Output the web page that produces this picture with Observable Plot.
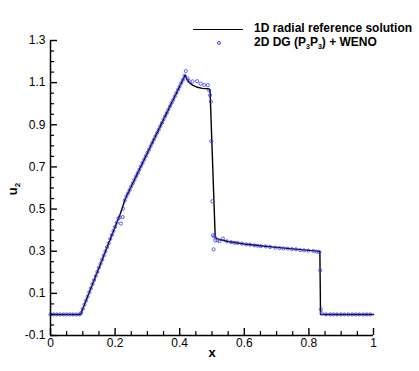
<!DOCTYPE html>
<html>
<head>
<meta charset="utf-8">
<script src="https://cdn.jsdelivr.net/npm/d3@7"></script>
<script src="https://cdn.jsdelivr.net/npm/@observablehq/plot@0.6"></script>
<style>
  html, body { margin: 0; padding: 0; background: #fff; }
  #wrap { position: relative; width: 419px; height: 371px; font-family: "Liberation Sans", Arial, sans-serif; }
  #wrap svg { display: block; }
  .lg { position: absolute; font-weight: bold; font-size: 12px; line-height: 12px; white-space: nowrap; color: #000; }
  .lg sub { font-size: 7px; vertical-align: -3px; line-height: 0; }
  #lgline { position: absolute; left: 193px; top: 28.5px; width: 50px; height: 0; border-top: 1.5px solid #000; }
  #lgdot { position: absolute; left: 216.5px; top: 40.5px; width: 2.4px; height: 2.4px; border: 0.8px solid #3a3aff; border-radius: 50%; }
  #ylab { position: absolute; left: 12px; top: 189px; transform: translate(-50%, -50%) rotate(-90deg); font-weight: bold; font-size: 13px; line-height: 13px; white-space: nowrap; }
  #ylab sub { font-size: 8px; vertical-align: -3px; line-height: 0; }
</style>
</head>
<body>
<div id="wrap">
  <div id="lgline"></div>
  <div class="lg" style="left:254px; top:22.3px;">1D radial reference solution</div>
  <div id="lgdot"></div>
  <div class="lg" style="left:254px; top:36px;">2D DG (P<sub>3</sub>P<sub>3</sub>) + WENO</div>
  <div id="ylab">u<sub>2</sub></div>
</div>
<script>
// Reference solution (black line)
const refX = [0, 0.093, 0.16, 0.216, 0.232, 0.319, 0.417, 0.423, 0.43, 0.44, 0.455, 0.47, 0.49, 0.494, 0.51, 0.52, 0.55, 0.6, 0.65, 0.7, 0.75, 0.8, 0.834, 0.836, 1];
const refY = [0, 0, 0.26, 0.478, 0.55, 0.827, 1.136, 1.115, 1.1, 1.088, 1.078, 1.073, 1.071, 1.06, 0.365, 0.357, 0.346, 0.334, 0.326, 0.318, 0.311, 0.304, 0.299, 0, 0];

// 2D DG (P3P3) + WENO (blue circles)
const dgX = [
  0, 0.01, 0.02, 0.03, 0.04, 0.05, 0.06, 0.07, 0.08, 0.09,
  0.095, 0.1, 0.105, 0.11, 0.115, 0.12, 0.125, 0.13, 0.135, 0.14,
  0.145, 0.15, 0.155, 0.16, 0.165, 0.17, 0.175, 0.18, 0.185, 0.19,
  0.195, 0.2, 0.205, 0.21, 0.214, 0.218, 0.2235, 0.2246, 0.23, 0.235,
  0.24, 0.245, 0.25, 0.255, 0.26, 0.265, 0.27, 0.275, 0.28, 0.285,
  0.29, 0.295, 0.3, 0.305, 0.31, 0.315, 0.32, 0.325, 0.33, 0.335,
  0.34, 0.345, 0.35, 0.355, 0.36, 0.365, 0.37, 0.375, 0.38, 0.385,
  0.39, 0.395, 0.4, 0.405, 0.41, 0.415, 0.419, 0.424, 0.428, 0.44,
  0.454, 0.465, 0.476, 0.487, 0.491, 0.494, 0.4965, 0.4977, 0.5008, 0.503,
  0.507, 0.505, 0.51, 0.517, 0.523, 0.534, 0.546, 0.5595, 0.57, 0.579,
  0.593, 0.606, 0.618, 0.631, 0.641, 0.651, 0.666, 0.68, 0.696, 0.709,
  0.721, 0.734, 0.747, 0.76, 0.773, 0.785, 0.798, 0.814, 0.824, 0.8325,
  0.835, 0.837, 0.84, 0.853, 0.866, 0.876, 0.887, 0.899, 0.91, 0.922,
  0.934, 0.945, 0.956, 0.968, 0.979, 0.99
];
const dgY = [
  0, 0, 0, 0, 0, 0, 0, 0, 0, 0,
  0.008, 0.027, 0.047, 0.066, 0.085, 0.105, 0.124, 0.144, 0.163, 0.183,
  0.202, 0.222, 0.241, 0.26, 0.28, 0.299, 0.319, 0.338, 0.358, 0.377,
  0.396, 0.416, 0.435, 0.455, 0.462, 0.431, 0.462, 0.502, 0.541, 0.56,
  0.575, 0.591, 0.607, 0.623, 0.639, 0.655, 0.671, 0.687, 0.703, 0.719,
  0.735, 0.751, 0.767, 0.782, 0.798, 0.814, 0.83, 0.846, 0.862, 0.877,
  0.893, 0.909, 0.925, 0.941, 0.956, 0.972, 0.988, 1.004, 1.019, 1.035,
  1.051, 1.067, 1.082, 1.098, 1.114, 1.132, 1.155, 1.12, 1.108, 1.106,
  1.107, 1.095, 1.089, 1.088, 1.064, 1.04, 1.01, 0.822, 0.537, 0.375,
  0.37, 0.309, 0.351, 0.352, 0.348, 0.36, 0.347, 0.343, 0.34, 0.339,
  0.336, 0.332, 0.331, 0.328, 0.326, 0.324, 0.323, 0.32, 0.317, 0.315,
  0.313, 0.312, 0.31, 0.309, 0.305, 0.304, 0.303, 0.301, 0.298, 0.296,
  0.209, 0.024, 0.005, 0, 0, 0, 0, 0, 0, 0,
  0, 0, 0, 0, 0, 0
];

const xMajor = [0, 0.2, 0.4, 0.6, 0.8, 1];
const xMinor = [0.05, 0.1, 0.15, 0.25, 0.3, 0.35, 0.45, 0.5, 0.55, 0.65, 0.7, 0.75, 0.85, 0.9, 0.95];
const yMajor = [-0.1, 0.1, 0.3, 0.5, 0.7, 0.9, 1.1, 1.3];
const yMinor = [-0.05, 0, 0.05, 0.15, 0.2, 0.25, 0.35, 0.4, 0.45, 0.55, 0.6, 0.65, 0.75, 0.8, 0.85, 0.95, 1, 1.05, 1.15, 1.2, 1.25];

const refData = refX.map((x, i) => ({x, y: refY[i]}));
const dgData = dgX.map((x, i) => ({x, y: dgY[i]}));
const blank = () => "";

const chart = Plot.plot({
  width: 419,
  height: 371,
  marginLeft: 50,
  marginRight: 46,
  marginTop: 40,
  marginBottom: 36,
  style: {fontFamily: "'Liberation Sans', Arial, sans-serif", fontSize: "12px", background: "#fff", color: "#000", overflow: "visible"},
  x: {domain: [0, 1]},
  y: {domain: [-0.1, 1.3]},
  marks: [
    Plot.line(refData, {x: "x", y: "y", stroke: "#000", strokeWidth: 1.4}),
    Plot.dot(dgData, {x: "x", y: "y", r: 1.6, stroke: "#3a3aff", strokeWidth: 0.8, fill: "none"}),
    // axis frame lines
    Plot.ruleX([0], {stroke: "#000", strokeWidth: 1.5}),
    Plot.ruleY([-0.1], {stroke: "#000", strokeWidth: 1.5}),
    // inward ticks
    Plot.axisX({ticks: xMajor, tickSize: 7, dy: -7, tickFormat: blank, label: null, strokeWidth: 1.4}),
    Plot.axisX({ticks: xMinor, tickSize: 4, dy: -4, tickFormat: blank, label: null, strokeWidth: 1.2}),
    Plot.axisY({ticks: yMajor, tickSize: 7, dx: 7, tickFormat: blank, label: null, strokeWidth: 1.4}),
    Plot.axisY({ticks: yMinor, tickSize: 4, dx: 4, tickFormat: blank, label: null, strokeWidth: 1.2}),
    // tick labels
    Plot.axisX({ticks: xMajor, tickSize: 0, tickPadding: 3, tickFormat: d => String(d), label: null, fontSize: 12}),
    Plot.axisY({ticks: yMajor, tickSize: 0, tickPadding: 5, tickFormat: d => String(d), label: null, fontSize: 12}),
    // x axis title
    Plot.text(["x"], {frameAnchor: "bottom", dy: 21, fontWeight: "bold", fontSize: 13, fill: "#000"})
  ]
});
document.getElementById("wrap").prepend(chart);
</script>
</body>
</html>
